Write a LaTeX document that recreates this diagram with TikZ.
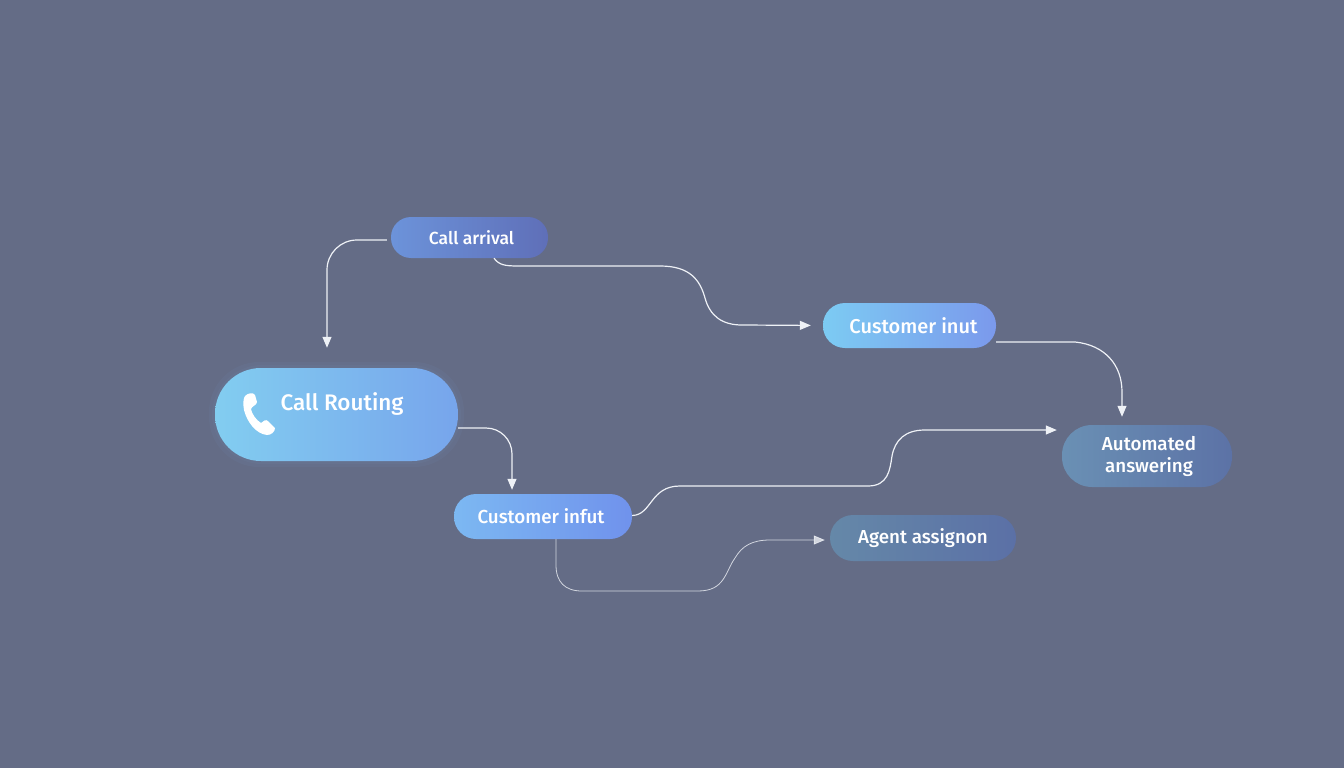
\documentclass[tikz,border=0pt]{standalone}
\usepackage{fontspec}
\setmainfont{Fira Sans Medium}
\usetikzlibrary{arrows.meta}

\definecolor{bgcol}{HTML}{646C86}
\definecolor{linecol}{HTML}{EEF1F6}
\definecolor{glowcol}{HTML}{7FB8EA}
\definecolor{arrivalL}{HTML}{6C93DA}
\definecolor{arrivalR}{HTML}{5F6FB8}
\definecolor{routingL}{HTML}{82CDF0}
\definecolor{routingR}{HTML}{77A5EC}
\definecolor{inputtopL}{HTML}{7CCBF3}
\definecolor{inputtopR}{HTML}{7B99EC}
\definecolor{inputlowL}{HTML}{7CB8F2}
\definecolor{inputlowR}{HTML}{7092EC}
\definecolor{agentL}{HTML}{6588A8}
\definecolor{agentR}{HTML}{5B70A6}
\definecolor{autoL}{HTML}{6A90B4}
\definecolor{autoR}{HTML}{5C72A6}

\tikzset{
  pill/.style={rectangle, inner sep=0pt, text=white, align=center, font=\fontsize{18.8}{22}\selectfont},
  link/.style={draw=linecol, line width=1.2pt, -{Triangle[length=11pt,width=9pt]}},
}

\begin{document}
\begin{tikzpicture}[x=1pt, y=-1pt]
  \fill[bgcol] (0,0) rectangle (1344,768);

  \foreach \g in {3,6}{%
  \fill[glowcol, opacity=.05, rounded corners=50] (215-\g,368-\g) rectangle (458+\g,461+\g);
  }

  \node[pill, font=\fontsize{17.5}{21}\selectfont, minimum width=157pt, minimum height=41pt, rounded corners=20, left color=arrivalL, right color=arrivalR] (arrival) at (469.5,237.5) {\hspace*{4pt}Call arrival};
  \node[pill, minimum width=243pt, minimum height=93pt, rounded corners=46, left color=routingL, right color=routingR] (routing) at (336.5,414.5) {};
  \node[pill, font=\fontsize{22.5}{26}\selectfont] (routinglabel) at (342,404) {Call Routing};
  \node[pill, font=\fontsize{20}{24}\selectfont, minimum width=173pt, minimum height=45pt, rounded corners=22, left color=inputtopL, right color=inputtopR] (inputtop) at (909.5,325.5) {\hspace*{8pt}Customer inut};
  \node[pill, minimum width=178pt, minimum height=45pt, rounded corners=22, left color=inputlowL, right color=inputlowR] (inputlow) at (543,516.5) {Customer infut\hspace*{4pt}};
  \node[pill, minimum width=186pt, minimum height=46pt, rounded corners=23, left color=agentL, right color=agentR] (agent) at (923,538) {Agent assignon};
  \node[pill, minimum width=170pt, minimum height=62pt, rounded corners=30, left color=autoL, right color=autoR] (auto) at (1147,456) {\hspace*{4pt}Automated\\\hspace*{4pt}answering};

  % handset
  \fill[white] (245,396) .. controls (248,393) and (253,392) .. (255,395) -- (257,402) .. controls (257,405) and (252,406) .. (251,409) .. controls (252,414) and (256,420) .. (261,423) .. controls (263,421) and (266,419) .. (268,421) -- (275,428) .. controls (275,432) and (271,435) .. (267,435) .. controls (256,434) and (247,422) .. (244,410) .. controls (243,404) and (243,399) .. (245,396) -- cycle;

  \draw[link, rounded corners=30, shorten <=4pt, shorten >=20pt] ([yshift=-2.5pt]arrival.west) -| ([xshift=-9.5pt]routing.north);
  \draw[link, shorten >=12pt] ([xshift=24.5pt]arrival.south) .. controls (499,265) and (505,266) .. (518,266) -- (660,266) .. controls (690,266) and (700,280) .. (705,298) .. controls (710,316) and (722,325) .. (742,325) -- (inputtop.west);
  \draw[link, shorten >=8pt] ([yshift=-16.5pt]inputtop.east) -- (1075,342) .. controls (1105,345) and (1122,365) .. (1122,392) -- ([xshift=-25pt]auto.north);
  \draw[link, rounded corners=26, shorten >=4pt] ([yshift=-13.5pt]routing.east) -| ([xshift=-31pt]inputlow.north);
  \draw[link, shorten >=5pt] ([yshift=1pt]inputlow.east) .. controls (652,515) and (650,486) .. (680,486) -- (868,486) .. controls (888,486) and (890,470) .. (892,456) .. controls (895,440) and (905,430) .. (925,430) -- ([yshift=26pt]auto.west);
  \draw[link, line width=.8pt, opacity=.8, shorten >=5pt] ([xshift=13pt]inputlow.south) -- (556,565) .. controls (556,582) and (565,591) .. (582,591) -- (698,591) .. controls (725,591) and (725,572) .. (735,558) .. controls (742,546) and (752,540) .. (770,540) -- ([yshift=-2pt]agent.west);
\end{tikzpicture}
\end{document}
